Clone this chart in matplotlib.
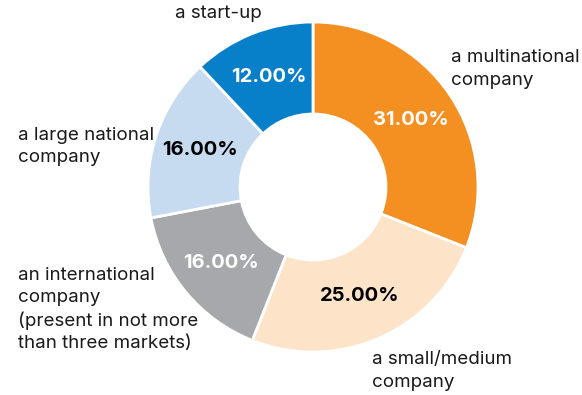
import matplotlib
matplotlib.use('Agg')
import matplotlib.pyplot as plt

plt.rcParams['font.family'] = ['Inter', 'DejaVu Sans']

# company types, clockwise from 12 o'clock
categories = ['a multinational\ncompany', 'a small/medium\ncompany',
              'an international\ncompany\n(present in not more\nthan three markets)',
              'a large national\ncompany', 'a start-up']
shares = [31.0, 25.0, 16.0, 16.0, 12.0]
colors = ['#F39021', '#FDE4C9', '#A7A8AB', '#C6DBF0', '#0880C9']
pct_colors = ['white', 'black', 'white', 'black', 'white']

# label anchors in pixels from the top-left (left edge, first line centre)
label_pos = [(451, 58), (372, 360), (18, 275), (18, 135), (175, 14)]

W, H = 582, 395
fig = plt.figure(figsize=(W / 100, H / 100), dpi=100)
ax = fig.add_axes([0, 0, 1, 1])

wedges, texts, autotexts = ax.pie(
    shares, colors=colors, startangle=90, counterclock=False,
    center=(313, H - 187), radius=165, autopct='%.2f%%', pctdistance=0.72,
    wedgeprops=dict(width=92, edgecolor='white', linewidth=2),
    textprops=dict(fontsize=14.5, fontweight='bold'))

for t, c in zip(autotexts, pct_colors):
    t.set_color(c)

for (x, y), lab in zip(label_pos, categories):
    for i, line in enumerate(lab.split('\n')):
        ax.text(x, H - y - 22.7 * i, line, ha='left', va='center',
                fontsize=13.5, color='#1a1a1a')

ax.set_xlim(0, W)
ax.set_ylim(0, H)
ax.set_aspect('equal')
ax.axis('off')

plt.savefig('out.png', dpi=100)
plt.close()
